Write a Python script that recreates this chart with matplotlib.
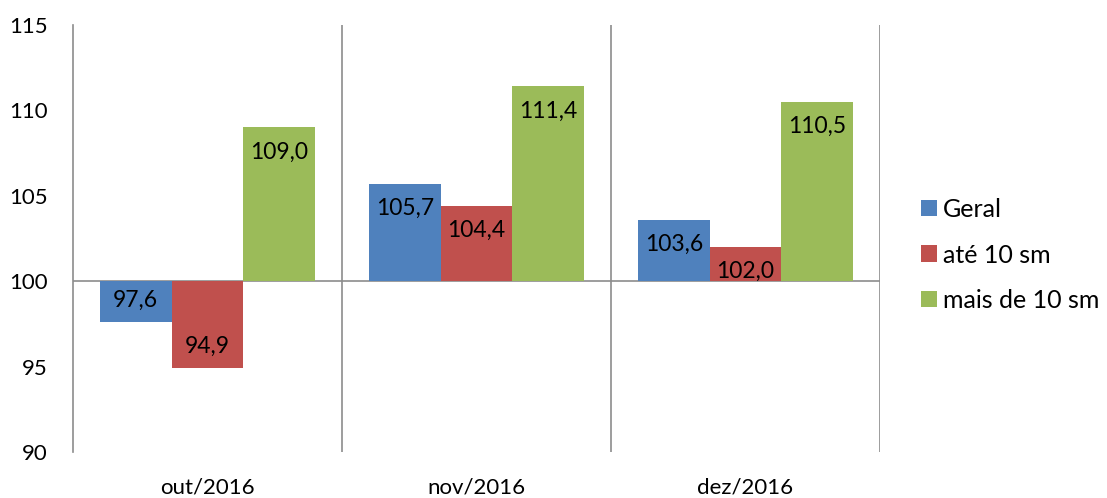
import numpy as np
from matplotlib import pyplot as plt

plt.rcParams['font.family'] = ['Lato', 'DejaVu Sans']

meses = ["out/2016", "nov/2016", "dez/2016"]
series = ["Geral", "até 10 sm", "mais de 10 sm"]
geral = [97.6, 105.7, 103.6]
ate10 = [94.9, 104.4, 102.0]
mais10 = [109.0, 111.4, 110.5]
cores = ["#4F81BD", "#C0504D", "#9BBB59"]

fig = plt.figure(figsize=(11.07, 4.98), dpi=100)
ax = fig.add_axes([73/1107, 46/498, (880-73)/1107, (452-25)/498])

x = np.arange(len(meses))
w = 0.8/3
base = 100
grid_c = "#8C8C8C"
for i, (vals, nome, c) in enumerate(zip([geral, ate10, mais10], series, cores)):
    pos = x + (i-1)*w
    alt = np.array(vals) - base
    ax.bar(pos, alt, w, bottom=base, color=c, label=nome, zorder=2)
    for p, v in zip(pos, vals):
        off = -1.45 if v > base else 1.3
        ax.text(p, v + off, f"{v:.1f}".replace(".", ","), ha="center",
                va="center", fontsize=16.5, zorder=3)

ax.axhline(base, color=grid_c, lw=1.2, zorder=1)
for b in [0.5, 1.5, 2.5]:
    ax.axvline(b, color=grid_c, lw=1.2, zorder=1)

ax.set_xlim(-0.5, 2.5)
ax.set_ylim(90, 115)
ax.set_yticks(range(90, 116, 5))
ax.set_xticks(x)
ax.set_xticklabels(meses)
ax.tick_params(axis="both", length=0, labelsize=16)
ax.tick_params(axis="y", pad=18)
ax.tick_params(axis="x", pad=18)
for s in ["top", "right", "bottom"]:
    ax.spines[s].set_visible(False)
ax.spines["left"].set_color(grid_c)
ax.spines["left"].set_linewidth(1.2)

fig.legend(loc="center left", bbox_to_anchor=(921/1107, 1 - 255/498),
           frameon=False, fontsize=18, handlelength=0.64, handleheight=0.64,
           handletextpad=0.25, labelspacing=0.9, borderpad=0,
           borderaxespad=0)

fig.savefig("out.png", dpi=100)
